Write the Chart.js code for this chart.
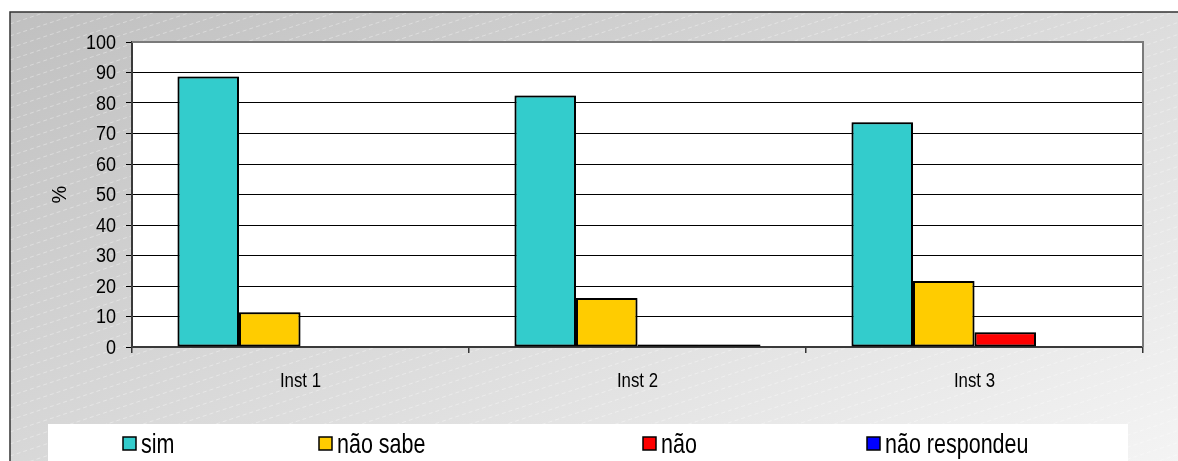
<!DOCTYPE html>
<html>
<head>
<meta charset="utf-8">
<script src="https://cdn.jsdelivr.net/npm/chart.js@4/dist/chart.umd.min.js"></script>
<style>
  html, body { margin: 0; padding: 0; background: #fff; overflow: hidden; }
  #wrap { width: 1178px; height: 461px; position: relative; }
</style>
</head>
<body>
<div id="wrap"><canvas id="c" width="1178" height="461"></canvas></div>
<script>
// Survey answers per institution (%)
const categories = ['Inst 1', 'Inst 2', 'Inst 3'];
const seriesNames = ['sim', 'não sabe', 'não', 'não respondeu'];
const sim = [88.7, 82.5, 73.7];
const naoSabe = [11.4, 16.1, 21.6];
const nao = [0, 0.8, 4.8];
const naoRespondeu = [0, 0.8, 0];
const yTicks = [0, 10, 20, 30, 40, 50, 60, 70, 80, 90, 100];
const yTitle = '%';

const seriesValues = [sim, naoSabe, nao, naoRespondeu];
const seriesColors = ['#33CCCC', '#FFCC00', '#FF0000', '#0000FF'];

const FONT = '"Liberation Sans", Arial, sans-serif';

// Text with independent horizontal / vertical scaling
function drawText(ctx, text, x, y, o) {
  ctx.save();
  ctx.translate(x, y);
  if (o.rotate) ctx.rotate(o.rotate);
  ctx.scale(o.sx || 1, o.sy || 1);
  ctx.font = o.size + 'px ' + FONT;
  ctx.fillStyle = '#000';
  ctx.textAlign = o.align || 'left';
  ctx.textBaseline = o.baseline || 'alphabetic';
  ctx.fillText(text, 0, 0);
  ctx.restore();
}

// Frame, gradient backdrop, hatching, plot and legend panels
const backdrop = {
  id: 'backdrop',
  beforeDraw(chart) {
    const ctx = chart.ctx;
    const W = chart.width, H = chart.height;
    const fx = 10, fy = 12;
    ctx.save();
    ctx.fillStyle = '#ffffff';
    ctx.fillRect(0, 0, W, H);
    const g = ctx.createLinearGradient(fx, fy, 435, 951);
    g.addColorStop(0, '#c0c0c0');
    g.addColorStop(1, '#fcfcfc');
    ctx.fillStyle = g;
    ctx.fillRect(fx, fy, W - fx, H - fy);
    // faint dashed diagonal hatching
    ctx.beginPath();
    ctx.rect(fx, fy, W - fx, H - fy);
    ctx.clip();
    ctx.strokeStyle = 'rgba(255,255,255,0.35)';
    ctx.lineWidth = 1;
    ctx.setLineDash([4, 3]);
    const slope = -0.33;
    for (let y0 = fy; y0 < H + W * 0.4; y0 += 12) {
      ctx.beginPath();
      ctx.moveTo(fx, y0);
      ctx.lineTo(W, y0 + slope * (W - fx));
      ctx.stroke();
    }
    ctx.setLineDash([]);
    ctx.restore();
    ctx.save();
    // frame edges
    ctx.strokeStyle = '#333333';
    ctx.lineWidth = 1.5;
    ctx.beginPath();
    ctx.moveTo(fx, H);
    ctx.lineTo(fx, fy);
    ctx.lineTo(W, fy);
    ctx.stroke();
    // plot panel
    const a = chart.chartArea;
    ctx.fillStyle = '#ffffff';
    ctx.fillRect(a.left, a.top, a.right - a.left, a.bottom - a.top);
    // legend panel
    ctx.fillRect(48, 424, 1080, H - 424);
    ctx.restore();
  }
};

// Soft grey halo around the bars
const barHalo = {
  id: 'barHalo',
  beforeDatasetsDraw(chart) {
    const ctx = chart.ctx;
    ctx.save();
    ctx.shadowColor = 'rgba(0,0,0,0.35)';
    ctx.shadowBlur = 2;
    ctx.shadowOffsetX = 0;
    ctx.shadowOffsetY = 0;
  },
  afterDatasetsDraw(chart) {
    chart.ctx.restore();
  }
};

// Grey top and right edges of the plot panel
const plotEdges = {
  id: 'plotEdges',
  afterDatasetsDraw(chart) {
    const ctx = chart.ctx, a = chart.chartArea;
    ctx.save();
    ctx.shadowColor = 'transparent';
    ctx.strokeStyle = '#7a7a7a';
    ctx.lineWidth = 2;
    ctx.beginPath();
    ctx.moveTo(a.left, a.top);
    ctx.lineTo(a.right, a.top);
    ctx.lineTo(a.right, a.bottom);
    ctx.stroke();
    ctx.restore();
  }
};

// Axis labels and title, placed from the scales
const axisText = {
  id: 'axisText',
  afterDraw(chart) {
    const ctx = chart.ctx;
    const xs = chart.scales.x, ys = chart.scales.y;
    yTicks.forEach(v => {
      drawText(ctx, String(v), ys.right - 16, ys.getPixelForValue(v) + 1,
        { size: 20, sx: 0.9, align: 'right', baseline: 'middle' });
    });
    categories.forEach((c, i) => {
      drawText(ctx, c, xs.getPixelForValue(i), xs.top + 34,
        { size: 20, sx: 0.84, align: 'center', baseline: 'middle' });
    });
    drawText(ctx, yTitle, ys.left + 20, (ys.top + ys.bottom) / 2,
      { size: 20, rotate: -Math.PI / 2, align: 'center', baseline: 'middle' });
  }
};

// Legend row along the bottom
const legendItemX = [123, 319, 643, 867];
const bottomLegend = {
  id: 'bottomLegend',
  afterDraw(chart) {
    const ctx = chart.ctx;
    chart.data.datasets.forEach((ds, i) => {
      const x = legendItemX[i];
      ctx.save();
      ctx.fillStyle = ds.backgroundColor;
      ctx.fillRect(x, 437, 13, 13);
      ctx.strokeStyle = '#000';
      ctx.lineWidth = 1.5;
      ctx.strokeRect(x, 437, 13, 13);
      ctx.restore();
      drawText(ctx, ds.label, x + 18, 453, { size: 21.5, sy: 1.3 });
    });
  }
};

new Chart(document.getElementById('c'), {
  type: 'bar',
  data: {
    labels: categories,
    datasets: seriesNames.map((name, i) => ({
      label: name,
      data: seriesValues[i],
      backgroundColor: seriesColors[i],
      borderColor: '#000000',
      borderWidth: 2,
      borderSkipped: false,
      barPercentage: 1,
      categoryPercentage: 0.73
    }))
  },
  options: {
    responsive: false,
    animation: false,
    devicePixelRatio: 1,
    layout: { padding: { left: 40, top: 42, right: 35, bottom: 64 } },
    plugins: {
      legend: { display: false },
      tooltip: { enabled: false }
    },
    scales: {
      x: {
        grid: { drawOnChartArea: false, drawTicks: true, tickLength: 6, color: '#333333', lineWidth: 1.5, offset: true },
        border: { color: '#3a3a3a', width: 2 },
        ticks: { display: false },
        afterFit(scale) { scale.height = 50; }
      },
      y: {
        min: 0,
        max: 100,
        afterBuildTicks(scale) { scale.ticks = yTicks.map(v => ({ value: v })); },
        grid: { color: '#000000', lineWidth: 1, tickLength: 6, drawTicks: true },
        border: { color: '#3a3a3a', width: 2 },
        ticks: { display: false },
        title: { display: false },
        afterFit(scale) { scale.width = 92; }
      }
    }
  },
  plugins: [backdrop, barHalo, plotEdges, axisText, bottomLegend]
});
</script>
</body>
</html>
